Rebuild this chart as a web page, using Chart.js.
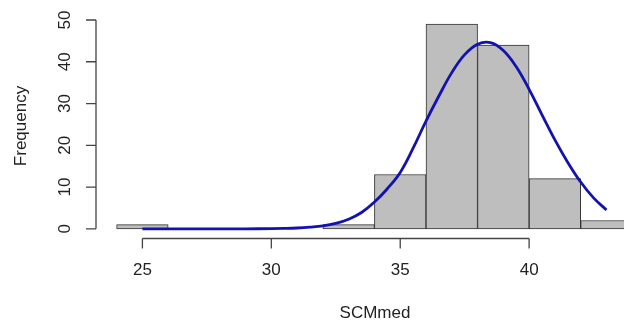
<!DOCTYPE html>
<html>
<head>
<meta charset="utf-8">
<script src="https://cdn.jsdelivr.net/npm/chart.js@4/dist/chart.umd.min.js"></script>
<style>
  html, body { margin: 0; padding: 0; background: #ffffff; overflow: hidden; }
  canvas { display: block; }
</style>
</head>
<body>
<canvas id="hist" width="624" height="323"></canvas>
<script>
// Histogram of SCMmed: bin midpoints (bin width 2) and counts
const binMids = [25, 27, 29, 31, 33, 35, 37, 39, 41, 43];
const freqs   = [1, 0, 0, 0, 1, 13, 49, 44, 12, 2];

// Fitted normal curve, scaled to counts
const curveX = [25, 26, 27, 28, 29, 30, 30.5, 31, 31.5, 32, 32.5, 33, 33.5, 34, 34.5,
                35, 35.5, 36, 36.5, 37, 37.5, 38, 38.5, 39, 39.5, 40, 40.5, 41, 41.5,
                42, 42.5, 43];
const curveY = [0.0, 0.0, 0.0, 0.0, 0.0, 0.05, 0.1, 0.2, 0.4, 0.7, 1.3, 2.3, 3.9, 6.4, 9.6,
                13.5, 19.3, 25.8, 31.8, 37.4, 41.7, 44.2, 44.6, 42.7, 38.8, 33.4, 27.3, 21.3, 15.9,
                11.2, 7.4, 4.5];

// Axis ticks and titles
const xTicks = [25, 30, 35, 40];
const yTicks = [0, 10, 20, 30, 40, 50];
const xTitle = 'SCMmed';
const yTitle = 'Frequency';

const FONT = '17px "Liberation Sans", Arial, Helvetica, sans-serif';
const TEXT = '#222222';
const AXIS = '#444444';

// Base-graphics style axes: line spans first..last tick, offset from the plot box
const rAxes = {
  id: 'rAxes',
  afterDraw(chart) {
    const ctx = chart.ctx;
    const xs = chart.scales.x, ys = chart.scales.y;
    const area = chart.chartArea;
    ctx.save();
    ctx.strokeStyle = AXIS;
    ctx.lineWidth = 1.3;
    ctx.fillStyle = TEXT;
    ctx.font = FONT;

    // x axis
    const xAxisY = area.bottom + 1.5;
    const tickLen = 10;
    ctx.beginPath();
    ctx.moveTo(xs.getPixelForValue(xTicks[0]), xAxisY);
    ctx.lineTo(xs.getPixelForValue(xTicks[xTicks.length - 1]), xAxisY);
    xTicks.forEach(v => {
      const px = xs.getPixelForValue(v);
      ctx.moveTo(px, xAxisY);
      ctx.lineTo(px, xAxisY + tickLen);
    });
    ctx.stroke();
    ctx.textAlign = 'center';
    ctx.textBaseline = 'middle';
    xTicks.forEach(v => {
      ctx.fillText(String(v), xs.getPixelForValue(v), 270);
    });

    // y axis
    const yAxisX = area.left;
    ctx.beginPath();
    ctx.moveTo(yAxisX, ys.getPixelForValue(yTicks[0]));
    ctx.lineTo(yAxisX, ys.getPixelForValue(yTicks[yTicks.length - 1]));
    yTicks.forEach(v => {
      const py = ys.getPixelForValue(v);
      ctx.moveTo(yAxisX, py);
      ctx.lineTo(yAxisX - tickLen, py);
    });
    ctx.stroke();
    yTicks.forEach(v => {
      ctx.save();
      ctx.translate(65, ys.getPixelForValue(v));
      ctx.rotate(-Math.PI / 2);
      ctx.fillText(String(v), 0, 0);
      ctx.restore();
    });

    // titles
    ctx.fillText(xTitle, 375, 313);
    ctx.save();
    ctx.translate(21, 126);
    ctx.rotate(-Math.PI / 2);
    ctx.fillText(yTitle, 0, 0);
    ctx.restore();

    ctx.restore();
  }
};

new Chart(document.getElementById('hist'), {
  type: 'bar',
  data: {
    datasets: [
      {
        type: 'line',
        data: curveX.map((x, i) => ({ x: x, y: curveY[i] })),
        borderColor: '#1212AE',
        borderWidth: 2.8,
        pointRadius: 0,
        fill: false,
        tension: 0.4,
        order: 0
      },
      {
        type: 'bar',
        data: binMids.map((x, i) => ({ x: x, y: freqs[i] })),
        backgroundColor: '#BEBEBE',
        borderColor: '#333333',
        borderWidth: 1,
        borderSkipped: false,
        barThickness: 'flex',
        barPercentage: 1,
        categoryPercentage: 1,
        order: 1
      }
    ]
  },
  options: {
    responsive: false,
    animation: false,
    devicePixelRatio: 1,
    layout: { padding: { left: 96, right: 0, top: 16, bottom: 86 } },
    plugins: { legend: { display: false }, tooltip: { enabled: false } },
    scales: {
      x: { type: 'linear', min: 23.2, max: 43.68, offset: false, display: false },
      y: { type: 'linear', min: -1.96, max: 50.96, display: false }
    }
  },
  plugins: [rAxes]
});
</script>
</body>
</html>
